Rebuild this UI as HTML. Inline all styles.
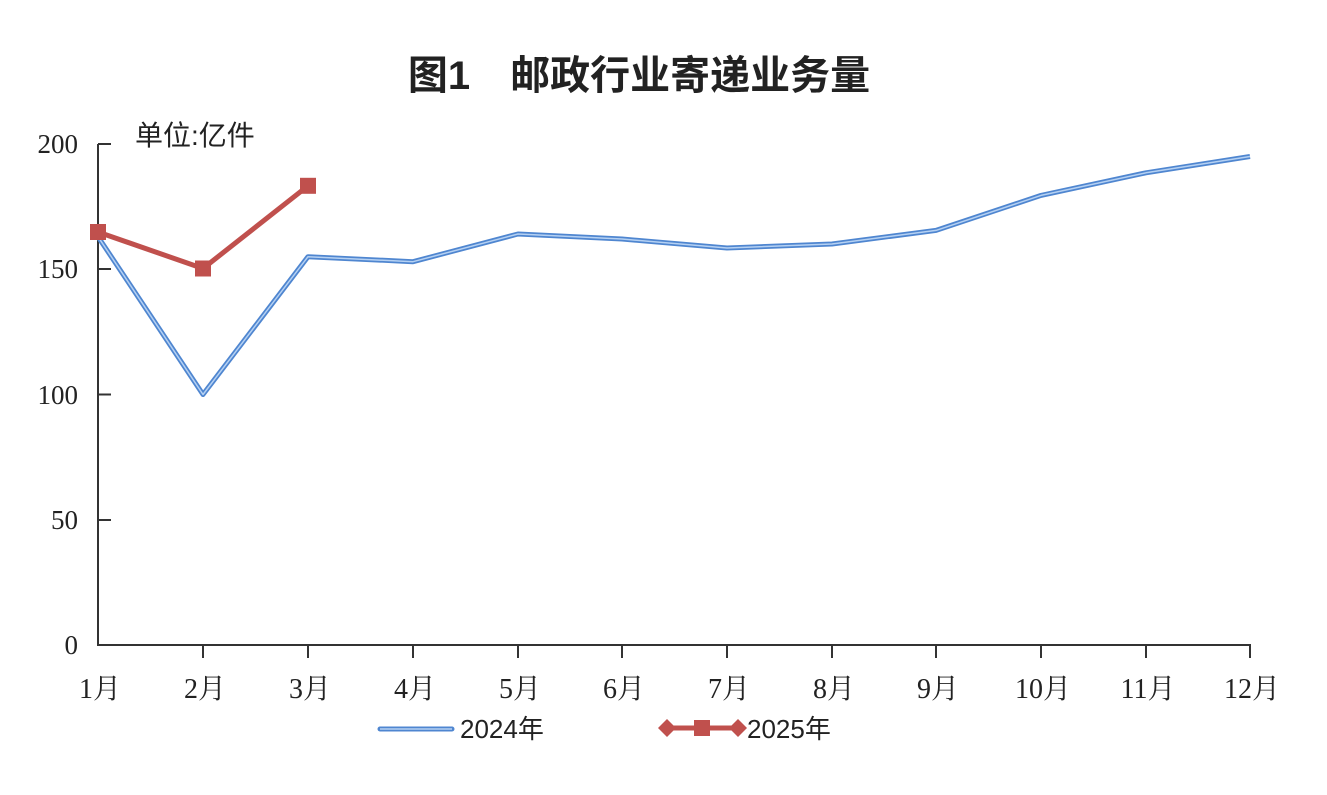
<!DOCTYPE html>
<html><head><meta charset="utf-8"><style>
body{margin:0;background:#fff;}
svg text{font-family:"Liberation Serif","Noto Serif CJK SC",serif;fill:#222;}
</style></head><body>
<svg width="1327" height="790" viewBox="0 0 1327 790" xmlns="http://www.w3.org/2000/svg">
<text x="639" y="89" text-anchor="middle" font-size="40" font-weight="bold" style="font-family:'Liberation Sans','Noto Sans CJK SC',sans-serif">图1　邮政行业寄递业务量</text>
<text x="135" y="145" font-size="28" style="font-family:'Liberation Sans','Noto Sans CJK SC',sans-serif">单位:亿件</text>
<g stroke="#333" stroke-width="2" fill="none">
<line x1="98" y1="144" x2="98" y2="646"/>
<line x1="97" y1="645" x2="1251" y2="645"/>
<line x1="98" y1="144" x2="111" y2="144"/>
<line x1="98" y1="269" x2="111" y2="269"/>
<line x1="98" y1="394.5" x2="111" y2="394.5"/>
<line x1="98" y1="520" x2="111" y2="520"/>
<path d="M203 645v13M308 645v13M413 645v13M518 645v13M622 645v13M727 645v13M832 645v13M936 645v13M1041 645v13M1146 645v13M1250 645v13"/>
</g>
<g font-size="27" text-anchor="end">
<text x="78" y="153">200</text><text x="78" y="278">150</text><text x="78" y="404">100</text><text x="78" y="529">50</text><text x="78" y="654">0</text>
</g>
<g font-size="28" text-anchor="middle">
<text x="100" y="698">1月</text><text x="205" y="698">2月</text><text x="310" y="698">3月</text><text x="415" y="698">4月</text><text x="520" y="698">5月</text><text x="624" y="698">6月</text><text x="729" y="698">7月</text><text x="834" y="698">8月</text><text x="938" y="698">9月</text><text x="1043" y="698">10月</text><text x="1148" y="698">11月</text><text x="1252" y="698">12月</text>
</g>
<polyline fill="none" stroke="#4f86d0" stroke-width="5" stroke-linejoin="round" points="98,236.7 203,394.5 308,256.7 413,261.7 518,234 622,239 727,248 832,244 936,230.4 1041,195.4 1146,172.8 1250,156.5"/>
<polyline fill="none" stroke="#b5d1f3" stroke-width="1.5" stroke-linejoin="round" points="98,236.7 203,394.5 308,256.7 413,261.7 518,234 622,239 727,248 832,244 936,230.4 1041,195.4 1146,172.8 1250,156.5"/>
<polyline fill="none" stroke="#c0504d" stroke-width="5" stroke-linejoin="round" points="98,232 203,268.5 308,185.8"/>
<g fill="#c0504d"><rect x="90" y="224" width="16" height="16"/><rect x="195" y="260.5" width="16" height="16"/><rect x="300" y="177.8" width="16" height="16"/></g>
<line x1="380" y1="729" x2="452" y2="729" stroke="#4f86d0" stroke-width="5" stroke-linecap="round"/>
<line x1="380" y1="729" x2="452" y2="729" stroke="#b5d1f3" stroke-width="1.5"/>
<text x="460" y="738" font-size="26" style="font-family:'Liberation Sans','Noto Sans CJK SC',sans-serif">2024年</text>
<line x1="664" y1="728" x2="740" y2="728" stroke="#c0504d" stroke-width="5"/>
<rect x="694" y="720" width="16" height="16" fill="#c0504d"/>
<path d="M658 728l9-9 9 9-9 9zM729 728l9-9 9 9-9 9z" fill="#c0504d"/>
<text x="747" y="738" font-size="26" style="font-family:'Liberation Sans','Noto Sans CJK SC',sans-serif">2025年</text>
</svg>
</body></html>
